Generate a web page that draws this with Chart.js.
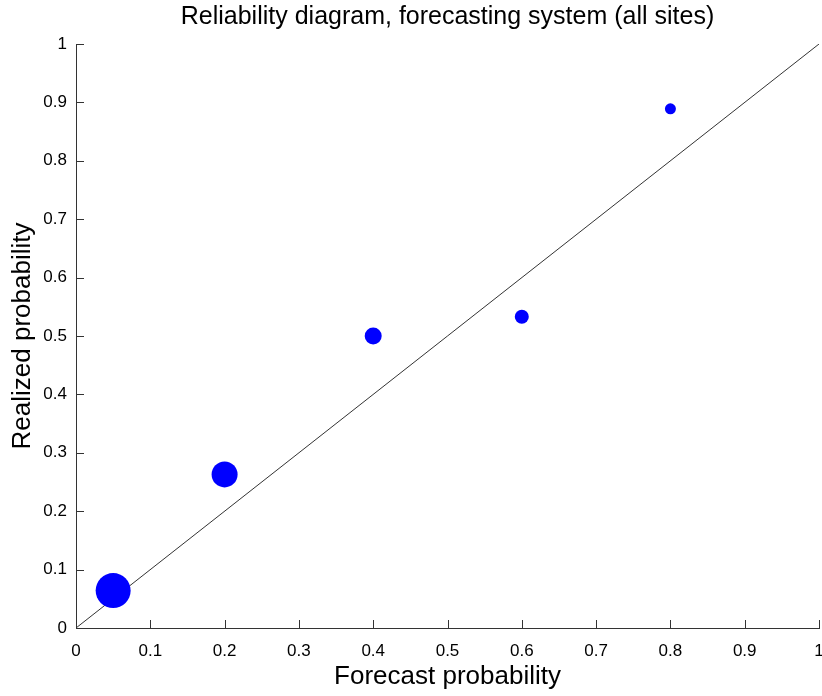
<!DOCTYPE html>
<html><head><meta charset="utf-8">
<script src="https://cdn.jsdelivr.net/npm/chart.js@4"></script>
<style>html,body{margin:0;padding:0;background:#fff;overflow:hidden}canvas{display:block}</style>
</head><body><canvas id="c" width="822" height="696"></canvas>
<script>
const titleText = "Reliability diagram, forecasting system (all sites)";
const xTitle = "Forecast probability";
const yTitle = "Realized probability";
const forecastProb = [0.05, 0.2, 0.4, 0.6, 0.8];
const realizedProb = [0.064, 0.263, 0.5, 0.533, 0.889];
const markerSize = [17.5, 13, 8.5, 7, 5.5];
const diagX = [0, 1];
const diagY = [0, 1];
const tickValues = [0,0.1,0.2,0.3,0.4,0.5,0.6,0.7,0.8,0.9,1];

const FONT = "'Liberation Sans', Arial, sans-serif";

const innerTicks = {
  id: 'innerTicks',
  afterDraw(chart) {
    const ctx = chart.ctx, a = chart.chartArea;
    const xs = chart.scales.x, ys = chart.scales.y;
    ctx.save();
    ctx.strokeStyle = '#333';
    ctx.lineWidth = 1;
    ctx.beginPath();
    tickValues.forEach(v => {
      const px = Math.round(xs.getPixelForValue(v)) + 0.5;
      ctx.moveTo(px, a.bottom); ctx.lineTo(px, a.bottom - 8);
      const py = Math.round(ys.getPixelForValue(v)) + 0.5;
      ctx.moveTo(a.left, py); ctx.lineTo(a.left + 8, py);
    });
    ctx.stroke();
    ctx.restore();
  }
};

new Chart(document.getElementById('c'), {
  type: 'scatter',
  data: {
    datasets: [
      {
        data: forecastProb.map((x, i) => ({x, y: realizedProb[i]})),
        pointRadius: markerSize,
        pointHoverRadius: markerSize,
        backgroundColor: '#0000ff',
        borderColor: '#0000ff',
        borderWidth: 0,
        showLine: false,
        clip: false
      },
      {
        data: diagX.map((x, i) => ({x, y: diagY[i]})),
        showLine: true,
        pointRadius: 0,
        borderColor: '#333',
        borderWidth: 1,
        fill: false
      }
    ]
  },
  options: {
    responsive: false,
    animation: false,
    events: [],
    layout: { autoPadding: false, padding: { left: 0, right: 3, top: 0, bottom: 0 } },
    plugins: {
      legend: { display: false },
      tooltip: { enabled: false },
      title: {
        display: true,
        text: titleText,
        fullSize: false,
        color: '#000',
        font: { family: FONT, size: 25, weight: 'normal' },
        padding: { top: 2, bottom: 12 }
      }
    },
    scales: {
      x: {
        type: 'linear', min: 0, max: 1,
        afterFit(s) { s.height = 68; s.paddingLeft = 0; s.paddingRight = 0; },
        afterBuildTicks(s) { s.ticks = tickValues.map(v => ({value: v})); },
        ticks: { color: '#000', font: { family: FONT, size: 17 }, padding: 13, maxRotation: 0,
                 callback: v => String(Math.round(v*10)/10) },
        grid: { display: true, drawOnChartArea: false, drawTicks: false },
        border: { display: true, color: '#333', width: 1 },
        title: { display: true, text: xTitle, color: '#000', font: { family: FONT, size: 26 }, padding: { top: 0, bottom: 4 } }
      },
      y: {
        type: 'linear', min: 0, max: 1,
        afterFit(s) { s.width = 76; s.paddingTop = 0; s.paddingBottom = 0; },
        afterBuildTicks(s) { s.ticks = tickValues.map(v => ({value: v})); },
        ticks: { color: '#000', font: { family: FONT, size: 17 }, padding: 9,
                 callback: v => String(Math.round(v*10)/10) },
        grid: { display: true, drawOnChartArea: false, drawTicks: false },
        border: { display: true, color: '#333', width: 1 },
        title: { display: true, text: yTitle, color: '#000', font: { family: FONT, size: 26 }, padding: { top: 7, bottom: 0 } }
      }
    }
  },
  plugins: [innerTicks]
});
</script></body></html>
